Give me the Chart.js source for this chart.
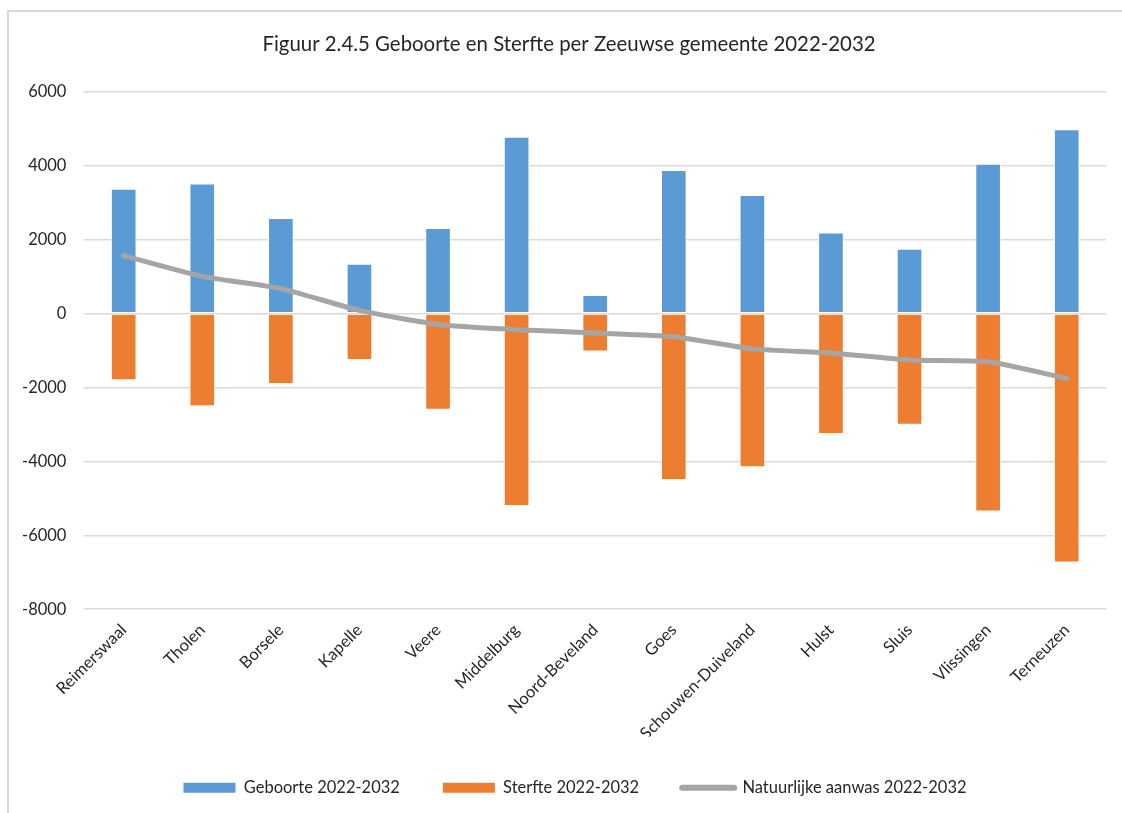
<!DOCTYPE html>
<html>
<head>
<meta charset="utf-8">
<script src="https://cdn.jsdelivr.net/npm/chart.js@4/dist/chart.umd.min.js"></script>
<style>
  html, body { margin: 0; padding: 0; background: #fff; overflow: hidden; }
  #frame { position: absolute; left: 7px; top: 10px; width: 1140px; height: 840px; border: 2px solid #d9d9d9; box-sizing: border-box; }
  #wrap { position: absolute; left: 0; top: 0; width: 1122px; height: 813px; }
</style>
</head>
<body>
<div id="frame"></div>
<div id="wrap"><canvas id="c" width="1122" height="813"></canvas></div>
<script>
const categories = ['Reimerswaal','Tholen','Borsele','Kapelle','Veere','Middelburg','Noord-Beveland','Goes','Schouwen-Duiveland','Hulst','Sluis','Vlissingen','Terneuzen'];
const geboorte = [3360, 3500, 2570, 1330, 2300, 4770, 490, 3870, 3190, 2180, 1740, 4040, 4970];
const sterfte = [-1800, -2500, -1900, -1250, -2600, -5200, -1020, -4500, -4150, -3250, -3000, -5350, -6730];
const aanwas = [1560, 1000, 670, 80, -300, -440, -530, -630, -960, -1070, -1260, -1310, -1760];
const yTicks = [-8000, -6000, -4000, -2000, 0, 2000, 4000, 6000];

const FONT = 'Lato, "Open Sans", sans-serif';
const TXT = '#262626';

const shiftBoxes = {
  id: 'shiftBoxes',
  afterLayout(chart) {
    if (chart.legend) { chart.legend.left += 20; chart.legend.right += 20; }
    if (chart.titleBlock) { chart.titleBlock.left += 14; chart.titleBlock.right += 14; }
  }
};

new Chart(document.getElementById('c'), {
  type: 'bar',
  data: {
    labels: categories,
    datasets: [
      { type: 'bar', label: 'Geboorte 2022-2032', data: geboorte, backgroundColor: '#5b9bd5', borderColor: '#ffffff', borderWidth: 1, borderSkipped: false, stack: 's', order: 1 },
      { type: 'bar', label: 'Sterfte 2022-2032', data: sterfte, backgroundColor: '#ed7d31', borderColor: '#ffffff', borderWidth: 1, borderSkipped: false, stack: 's', order: 1 },
      { type: 'line', label: 'Natuurlijke aanwas 2022-2032', data: aanwas, borderColor: '#a5a5a5', backgroundColor: '#a5a5a5', borderWidth: 5, borderCapStyle: 'round', borderJoinStyle: 'round', pointRadius: 0, pointHoverRadius: 0, tension: 0.2, stack: 'l', order: 0, fill: false }
    ]
  },
  plugins: [shiftBoxes],
  options: {
    responsive: false,
    animation: false,
    datasets: { bar: { barThickness: 25 } },
    layout: { padding: { top: 22, left: 4, right: 16, bottom: 7 } },
    plugins: {
      tooltip: { enabled: false },
      title: {
        display: true,
        text: 'Figuur 2.4.5 Geboorte en Sterfte per Zeeuwse gemeente 2022-2032',
        color: TXT,
        font: { family: FONT, size: 20.4, weight: 'normal' },
        padding: { top: 10, bottom: 35 }
      },
      legend: {
        position: 'bottom',
        labels: {
          color: TXT,
          font: { family: FONT, size: 16.5 },
          usePointStyle: true,
          pointStyleWidth: 52,
          boxHeight: 10,
          padding: 43,
          sort: (a, b) => a.datasetIndex - b.datasetIndex,
          generateLabels(chart) {
            const items = Chart.defaults.plugins.legend.labels.generateLabels(chart);
            items.forEach((it) => {
              const ds = chart.data.datasets[it.datasetIndex];
              if (ds.type === 'bar') { it.pointStyle = 'rect'; it.lineWidth = 0; it.fillStyle = ds.backgroundColor; it.strokeStyle = ds.backgroundColor; }
              else { it.pointStyle = 'line'; it.lineWidth = 6; it.lineCap = 'round'; it.strokeStyle = '#a5a5a5'; }
            });
            return items;
          }
        }
      }
    },
    scales: {
      x: {
        stacked: true,
        grid: { display: false, drawTicks: false },
        border: { display: false },
        afterFit(scale) { scale.height -= 18; },
        ticks: { color: TXT, font: { family: FONT, size: 16.5 }, maxRotation: 45, minRotation: 45, padding: 11, autoSkip: false }
      },
      y: {
        stacked: true,
        min: -8000,
        max: 6000,
        afterBuildTicks(scale) { scale.ticks = yTicks.map(v => ({ value: v })); },
        grid: { color: '#d9d9d9', lineWidth: 1.5, drawTicks: false },
        border: { display: false },
        ticks: { color: TXT, font: { family: FONT, size: 16.5 }, padding: 18, callback: (v) => String(v) }
      }
    }
  }
});
</script>
</body>
</html>
